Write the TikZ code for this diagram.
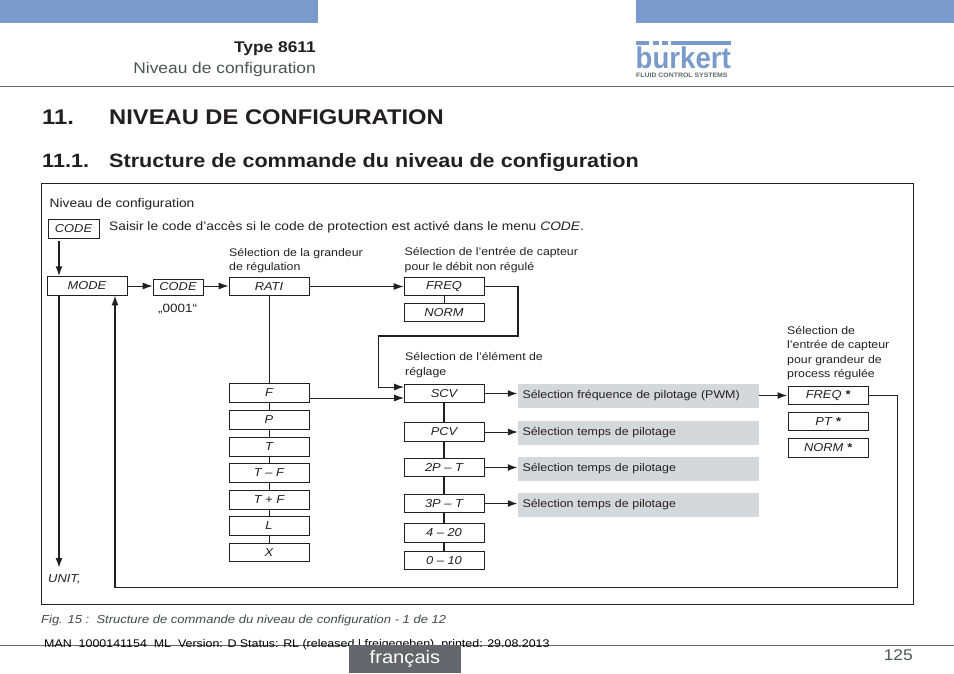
\documentclass[tikz,border=0pt]{standalone}
\usepackage{fontspec}
\setmainfont[FakeStretch=1.12]{Liberation Sans}
\newfontfamily\logofont[FakeStretch=0.92]{Liberation Sans}
\newfontfamily\logosubfont[FakeStretch=1.08]{Liberation Sans}
\usepackage{xcolor}
\usetikzlibrary{arrows.meta,calc}
\definecolor{barblue}{HTML}{7A9ACB}
\definecolor{panelgrey}{HTML}{D5D8DB}
\definecolor{tabgrey}{HTML}{63666A}
\definecolor{inkblack}{HTML}{231F20}
\tikzset{
  menubox/.style={draw=inkblack,line width=0.9pt,fill=white,minimum width=80pt,minimum height=18.5pt,inner sep=0pt,font=\fontsize{11.5}{13}\selectfont\itshape,text=inkblack},
  greybox/.style={fill=panelgrey,minimum width=241pt,minimum height=24pt,inner sep=0pt,inner xsep=4.5pt,text width=232pt,align=left,font=\fontsize{11.1}{13}\selectfont,text=inkblack},
  smalltxt/.style={anchor=north west,inner sep=0pt,align=left,font=\fontsize{11}{14.5}\selectfont,text=inkblack},
  thinline/.style={draw=inkblack,line width=0.9pt},
  thickline/.style={draw=inkblack,line width=1.7pt},
  tip/.style={-{Latex[length=10pt,width=7pt]}}
}
\begin{document}
\begin{tikzpicture}[x=1pt,y=-1pt]
    \useasboundingbox (0,0) rectangle (954,673);
    % page head
    \fill[barblue] (0,0) rectangle (318,23);
    \fill[barblue] (636,0) rectangle (954,23);
    \draw[tabgrey,line width=0.9pt] (0,86) -- (954,86);
    \node[anchor=base east,inner sep=0pt,font=\fontsize{15.5}{17}\selectfont\bfseries,text=inkblack] (typelbl) at (316,52) {Type 8611};
    \node[anchor=base east,inner sep=0pt,font=\fontsize{15.5}{17}\selectfont,text=tabgrey!80!black] (headlbl) at (316,73) {Niveau de configuration};
    % logo
    \foreach \xa/\xb in {636/649,653/658.5,662/667.5,671/731} \fill[barblue] (\xa,41) rectangle (\xb,44.5);
    \node[anchor=base west,inner sep=0pt,font=\logofont\fontsize{30}{30}\selectfont\bfseries,text=barblue] (logoname) at (635.5,68) {burkert};
    \node[anchor=base west,inner sep=0pt,font=\logosubfont\fontsize{6.4}{7}\selectfont\bfseries,text=tabgrey] (logosub) at (636,77) {FLUID CONTROL SYSTEMS};
    % headings
    \node[anchor=base west,inner sep=0pt,font=\fontsize{21.2}{23}\selectfont\bfseries,text=inkblack] (titlenum) at (42,124) {11.};
    \node[anchor=base west,inner sep=0pt,font=\fontsize{21.2}{23}\selectfont\bfseries,text=inkblack] (titlelbl) at (109,124) {NIVEAU DE CONFIGURATION};
    \node[anchor=base west,inner sep=0pt,font=\fontsize{19.3}{21}\selectfont\bfseries,text=inkblack] (subnum) at (42,167) {11.1.};
    \node[anchor=base west,inner sep=0pt,font=\fontsize{19.3}{21}\selectfont\bfseries,text=inkblack] (sublbl) at (109,167) {Structure de commande du niveau de configuration};
    % frame
    \draw[thinline] (41,183) rectangle (913,604);
    \node[anchor=base west,inner sep=0pt,font=\fontsize{12.3}{14}\selectfont,text=inkblack] (framelbl) at (49.5,207) {Niveau de configuration};
    % left column
    \node[menubox,minimum width=51pt,minimum height=19pt] (codea) at (73.5,228.5) {CODE};
    \node[anchor=base west,inner sep=0pt,font=\fontsize{12.3}{14}\selectfont,text=inkblack] (codetxt) at (109,230) {Saisir le code d'accès si le code de protection est activé dans le menu {\itshape CODE}.};
    \node[menubox] (mode) at (87,286) {MODE};
    \node[menubox,minimum width=50pt,minimum height=16pt] (codeb) at (178,287) {CODE};
    \node[anchor=base west,inner sep=0pt,font=\fontsize{12}{14}\selectfont,text=inkblack] (codeval) at (158,312) {„0001“};
    \node[anchor=base west,inner sep=0pt,font=\fontsize{11.5}{13}\selectfont\itshape,text=inkblack] (unit) at (48,582) {UNIT,};
    % first selection column
    \node[smalltxt] (ratitxt) at (229,248) {Sélection de la grandeur\\de régulation};
    \node[menubox] (rati) at (269,286.5) {RATI};
    \foreach \nm/\y/\lbl in {f/393/F,p/420/P,t/447/T,tmf/473/T – F,tpf/500/T + F,l/526/L,x/552.5/X} \node[menubox] (\nm) at (269,\y) {\lbl};
    % second selection column
    \node[smalltxt] (freqtxt) at (404.5,247.5) {Sélection de l'entrée de capteur\\pour le débit non régulé};
    \node[menubox] (freq) at (444,286.5) {FREQ};
    \node[menubox] (norm) at (444,312.5) {NORM};
    \node[smalltxt] (scvtxt) at (405,352.5) {Sélection de l'élément de\\réglage};
    \foreach \nm/\y/\lbl in {scv/393.5/SCV,pcv/432/PCV,twop/467.5/2P – T,threep/503.5/3P – T,cur/533/4 – 20,volt/560.5/0 – 10} \node[menubox] (\nm) at (444,\y) {\lbl};
    % grey panels
    \node[greybox] (pwm) at (638.5,396) {Sélection fréquence de pilotage (PWM)};
    \foreach \nm/\y in {tpa/432.5,tpb/468.5,tpc/505} \node[greybox] (\nm) at (638.5,\y) {Sélection temps de pilotage};
    % third selection column
    \node[smalltxt] (rfreqtxt) at (787,326) {Sélection de\\l'entrée de capteur\\pour grandeur de\\process régulée};
    \node[menubox] (rfreq) at (828,395.5) {FREQ \textbf{*}};
    \node[menubox] (rpt) at (828,421.5) {PT \textbf{*}};
    \node[menubox] (rnorm) at (828,448) {NORM \textbf{*}};
    % free ends
    \coordinate (modeout) at (59,295.25);
    \coordinate (modein) at (115,295.25);
    \coordinate (unitin) at (59,568);
    \coordinate (retr) at (897.5,587.5);
    \coordinate (retl) at (115,587.5);
    \coordinate (loopr) at (518,336);
    \coordinate (loopl) at (378,336);
    \coordinate (scvtop) at (404,387);
    \coordinate (scvlow) at (404,398);
    \coordinate (fout) at (309,398);
    % connectors
    \draw[thickline,tip] (codea.south -| modeout) ++(0,2.5) -- (mode.north -| modeout);
    \draw[thickline,tip] (modeout) -- (unitin);
    \draw[thickline,tip] (rfreq.east) -| (retr) -- (retl) -- (modein);
    \draw[thinline,tip] (mode.east) -- (codeb.west |- mode.east);
    \draw[thinline,tip] (codeb.east |- mode.east) -- (rati.west |- mode.east);
    \draw[thinline,tip] (rati.east) -- (freq.west);
    \draw[thinline] (rati.south) -- (f.north);
    \foreach \a/\b in {f/p,p/t,t/tmf,tmf/tpf,tpf/l,l/x} \draw[thinline] (\a.south) -- (\b.north);
    \draw[thinline] (freq.south) -- (norm.north);
    \draw[thickline] (freq.east) -| (loopr) -- (loopl);
    \draw[thinline,tip] (loopl) |- (scvtop);
    \draw[thinline,tip] (fout) -- (scvlow);
    \foreach \a/\b in {scv/pcv,pcv/twop,twop/threep,threep/cur,cur/volt} \draw[thickline] (\a.south) -- (\b.north);
    \draw[thickline,tip] (scv.east) -- (scv.east -| pwm.west);
    \draw[thinline,tip] (pcv.east) -- (pcv.east -| tpa.west);
    \draw[thickline,tip] (twop.east) -- (twop.east -| tpb.west);
    \draw[thickline,tip] (threep.east) -- (threep.east -| tpc.west);
    \draw[thickline,tip] (pwm.east |- rfreq.west) -- (rfreq.west);
    % page foot
    \node[anchor=base west,inner sep=0pt,font=\fontsize{11.6}{14}\selectfont\itshape,text=tabgrey!70!black] (figlbl) at (41,623) {Fig. 15 :\ \ Structure de commande du niveau de configuration - 1 de 12};
    \draw[tabgrey,line width=0.9pt] (0,645) -- (954,645);
    \node[anchor=base west,inner sep=0pt,font=\fontsize{11.1}{14}\selectfont,text=black] (manlbl) at (44,647) {MAN\ \ 1000141154\ \ ML\ \ Version: D Status: RL (released | freigegeben)\ \ printed: 29.08.2013};
    \node[fill=tabgrey,minimum width=112pt,minimum height=28pt,inner sep=0pt,text=white,font=\fontsize{18}{20}\selectfont] (langtab) at (405,659) {\raisebox{3pt}{français}};
    \node[anchor=base east,inner sep=0pt,font=\fontsize{15.5}{17}\selectfont,text=tabgrey!80!black] (pagenum) at (913,660) {125};
  \end{tikzpicture}
\end{document}
